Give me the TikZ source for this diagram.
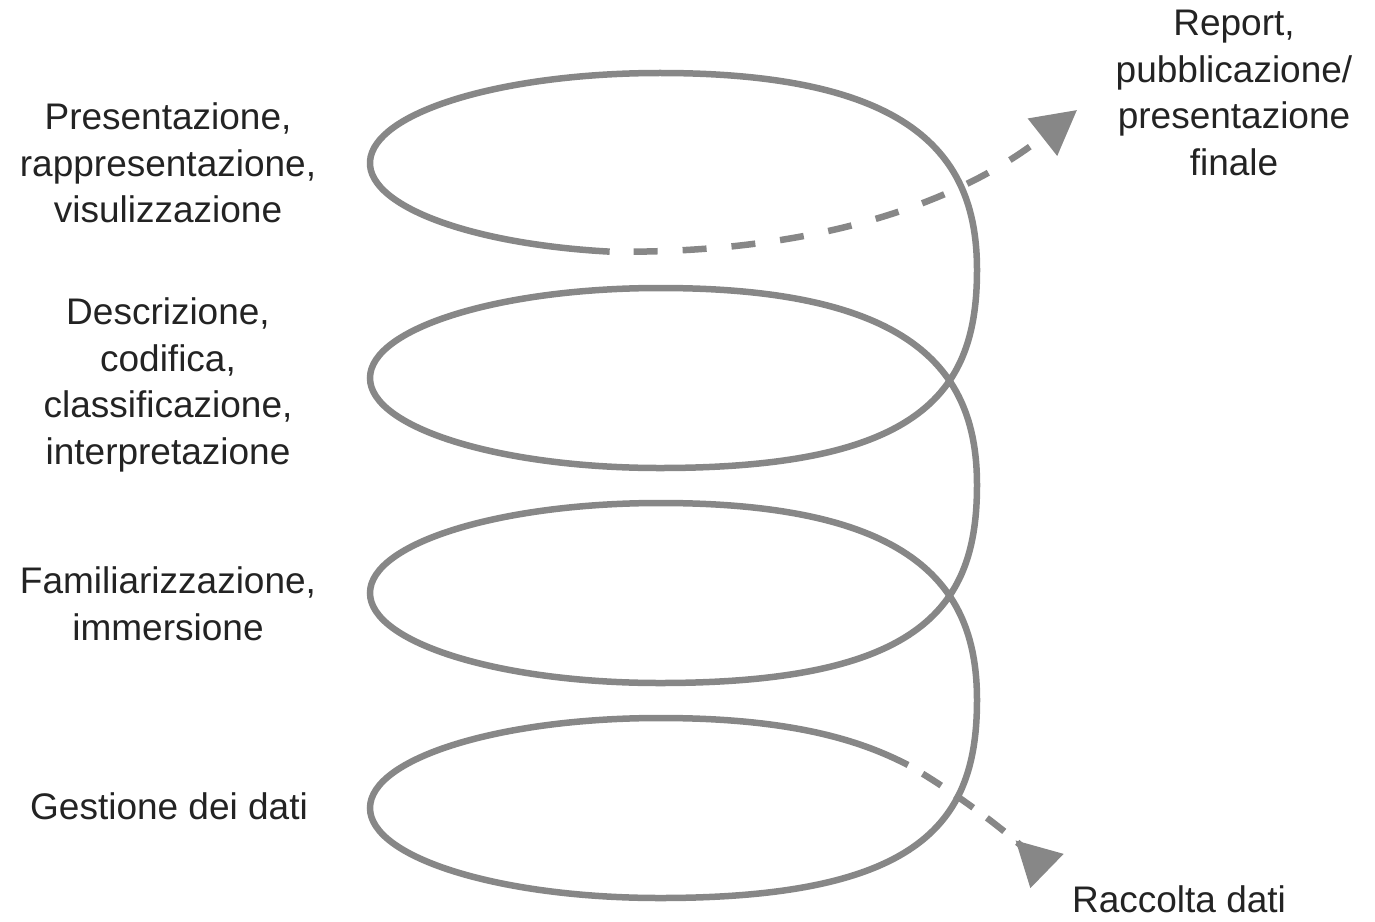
\documentclass[tikz,border=0pt]{standalone}
\usepackage{fontspec}
\setmainfont{Liberation Sans}
\usetikzlibrary{arrows.meta}

\definecolor{spiralgray}{RGB}{135,135,135}
\definecolor{labelgray}{RGB}{35,35,35}

\begin{document}
\begin{tikzpicture}[x=1pt, y=-1pt,
    spiral/.style={draw=spiralgray, line width=6.5pt},
    flow/.style={draw=spiralgray, line width=6.5pt},
    label/.style={text=labelgray, align=center, inner sep=0pt,
        font=\fontsize{37pt}{46.5pt}\selectfont}]
    \useasboundingbox (0,0) rectangle (1375,921);

    % Define positions of the labels
    \node[label] (presentazione) at (168,163) {Presentazione,\\rappresentazione,\\visulizzazione};
    \node[label] (descrizione) at (168,385) {Descrizione,\\codifica,\\classificazione,\\interpretazione};
    \node[label] (familiarizzazione) at (168,604) {Familiarizzazione,\\immersione};
    \node[label] (gestione) at (169,806) {Gestione dei dati};
    \node[label] (report) at (1234,93) {Report,\\pubblicazione/\\presentazione\\finale};
    \node[label] (raccolta) at (1179,899) {Raccolta dati};

    % Ends of the two arrows
    \coordinate (topstart) at (609.64,251.63);
    \coordinate (reportend) at (1077,110);
    \coordinate (bottomstart) at (908,765);
    \coordinate (raccoltaend) at (1047,871);

    % Draw the spiral, loop by loop from the top
    \draw[spiral] (topstart)
        arc[start angle=100, end angle=270, x radius=290, y radius=90]
        .. controls (920,73) and (977,161) .. (977,270)
        .. controls (977,389) and (925,468) .. (660,468)
        arc[start angle=90, end angle=270, x radius=290, y radius=90]
        .. controls (920,288) and (977,376) .. (977,485)
        .. controls (977,604) and (925,683) .. (660,683)
        arc[start angle=90, end angle=270, x radius=290, y radius=90]
        .. controls (920,503) and (977,591) .. (977,700)
        .. controls (977,819) and (925,898) .. (660,898)
        arc[start angle=90, end angle=270, x radius=290, y radius=90]
        .. controls (790,718) and (860,740) .. (bottomstart);

    % Draw the arrows leaving the spiral
    \draw[flow, dash pattern=on 24pt off 25pt, dash phase=25pt,
        -{Triangle[length=44pt, width=46pt]}]
        (topstart) .. controls (800,254) and (950,210) .. (reportend);
    \draw[flow, dash pattern=on 22pt off 17pt, dash phase=22pt,
        -{Triangle[reversed, length=44pt, width=46pt]}]
        (bottomstart) .. controls (960,795) and (1010,835) .. (raccoltaend);
\end{tikzpicture}
\end{document}
